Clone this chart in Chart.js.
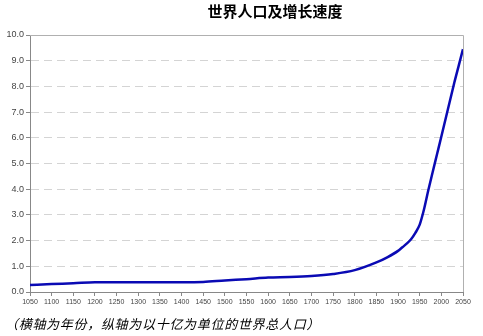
<!DOCTYPE html>
<html>
<head>
<meta charset="utf-8">
<script src="https://cdn.jsdelivr.net/npm/chart.js@4"></script>
<style>
  html, body { margin: 0; padding: 0; background: #fff; }
  #wrap { width: 483px; height: 336px; position: relative; }
</style>
</head>
<body>
<div id="wrap"><canvas id="popChart" width="483" height="336"></canvas></div>
<script>
// World population (billions) by year
const years = [1050, 1100, 1150, 1200, 1250, 1300, 1350, 1400, 1450, 1500, 1550, 1600, 1650, 1700, 1750, 1800, 1850,
               1875, 1900, 1910, 1920, 1930, 1940, 1950, 1955, 1960, 1970, 1980, 1990, 2000, 2010, 2020, 2030, 2040, 2050];
const population = [0.27, 0.31, 0.34, 0.38, 0.38, 0.38, 0.38, 0.38, 0.39, 0.45, 0.50, 0.56, 0.58, 0.62, 0.70, 0.85, 1.15,
                    1.35, 1.60, 1.74, 1.88, 2.05, 2.30, 2.62, 2.90, 3.22, 3.97, 4.67, 5.36, 6.05, 6.75, 7.45, 8.15, 8.80, 9.45];
const yTicks = [0, 1, 2, 3, 4, 5, 6, 7, 8, 9, 10];

const titleText = '世界人口及增长速度';
const captionText = '（横轴为年份，纵轴为以十亿为单位的世界总人口）';

// title, caption and the plot frame (top + right edges)
const decorations = {
    id: 'decorations',
    afterDraw(chart) {
        const ctx = chart.ctx;
        const area = chart.chartArea;
        ctx.save();
        ctx.strokeStyle = '#b0b0b0';
        ctx.lineWidth = 1;
        ctx.beginPath();
        ctx.moveTo(area.left, area.top + 0.5);
        ctx.lineTo(area.right + 0.5, area.top + 0.5);
        ctx.lineTo(area.right + 0.5, area.bottom);
        ctx.stroke();

        ctx.fillStyle = '#000';
        ctx.font = 'bold 15px "Noto Sans CJK SC"';
        ctx.textAlign = 'center';
        ctx.textBaseline = 'middle';
        ctx.fillText(titleText, 275, 11);

        ctx.font = 'italic 13px "Noto Sans CJK SC"';
        ctx.letterSpacing = '0.7px';
        ctx.textAlign = 'left';
        ctx.fillText(captionText, 5, 324);
        ctx.restore();
    }
};

const ctx = document.getElementById('popChart').getContext('2d');
const popChart = new Chart(ctx, {
    type: 'line',
    data: {
        datasets: [{
            data: years.map((yr, i) => ({ x: yr, y: population[i] })),
            borderColor: '#0a0ab4',
            borderWidth: 2.5,
            pointRadius: 0,
            cubicInterpolationMode: 'monotone',
            fill: false
        }]
    },
    options: {
        responsive: false,
        animation: false,
        layout: { padding: { top: 35, right: 20, left: 0, bottom: 0 } },
        plugins: {
            legend: { display: false },
            tooltip: { enabled: false }
        },
        scales: {
            x: {
                type: 'linear',
                min: 1050,
                max: 2050,
                afterFit(scale) { scale.height = 44; },
                ticks: {
                    stepSize: 50,
                    autoSkip: false,
                    maxRotation: 0,
                    padding: 2,
                    color: '#444',
                    font: { family: 'Liberation Sans', size: 7 },
                    callback: v => String(v)
                },
                grid: { drawOnChartArea: false, tickLength: 4, tickColor: '#888' },
                border: { color: '#888' }
            },
            y: {
                min: 0,
                max: 10,
                afterFit(scale) { scale.width = 30; },
                afterBuildTicks(scale) { scale.ticks = yTicks.map(v => ({ value: v })); },
                ticks: {
                    padding: 2,
                    color: '#444',
                    font: { family: 'Liberation Sans', size: 9 },
                    callback: v => v.toFixed(1)
                },
                grid: {
                    tickLength: 4,
                    tickColor: '#888',
                    color: c => (c.tick && c.tick.value > 0 && c.tick.value < 10) ? '#d4d4d4' : 'rgba(0,0,0,0)'
                },
                border: { color: '#888', dash: [8, 5] }
            }
        }
    },
    plugins: [decorations]
});
</script>
</body>
</html>
